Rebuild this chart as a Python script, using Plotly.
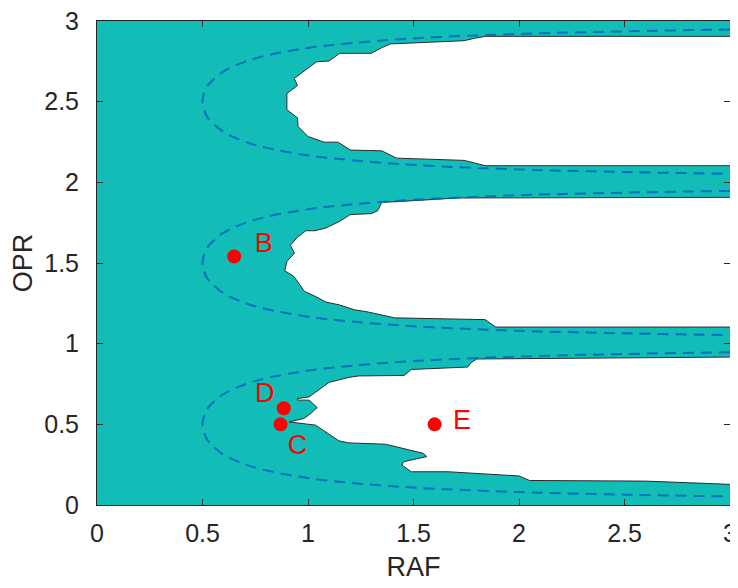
import plotly.graph_objects as go

# ---- data ----
tick_vals = [0, 0.5, 1, 1.5, 2, 2.5, 3]
tick_text = ["0", "0.5", "1", "1.5", "2", "2.5", "3"]

region_x = [0, 3, 3, 0, 0]
region_y = [0, 0, 3, 3, 0]

hole_top_x = [3, 1.84, 1.79, 1.74, 1.57, 1.39, 1.35, 1.30, 1.15, 1.10, 1.04, 0.95, 0.935, 0.95, 0.90,
              0.90, 0.95, 0.953, 1.0, 1.076, 1.143, 1.20, 1.35, 1.42, 1.74, 1.79, 1.84, 3]
hole_top_y = [2.905, 2.905, 2.893, 2.878, 2.868, 2.858, 2.835, 2.80, 2.80, 2.752, 2.747, 2.66, 2.644, 2.60, 2.55,
              2.45, 2.40, 2.346, 2.284, 2.249, 2.249, 2.20, 2.195, 2.15, 2.136, 2.12, 2.103, 2.103]

hole_mid_x = [3, 1.71, 1.42, 1.35, 1.33, 1.30, 1.20, 1.15, 1.084, 1.034, 0.99, 0.95, 0.916, 0.936, 0.90,
              0.89, 0.933, 0.95, 0.983, 1.04, 1.084, 1.15, 1.22, 1.286, 1.41, 1.84, 1.89, 3]
hole_mid_y = [1.907, 1.903, 1.88, 1.876, 1.824, 1.806, 1.80, 1.758, 1.717, 1.70, 1.70, 1.66, 1.61, 1.562, 1.51,
              1.452, 1.417, 1.386, 1.324, 1.29, 1.258, 1.24, 1.21, 1.196, 1.16, 1.149, 1.103, 1.103]

hole_bot_x = [3, 1.80, 1.775, 1.757, 1.49, 1.455, 1.24, 1.19, 1.10, 1.005, 0.95, 0.95, 1.005, 1.044, 1.013,
              0.98, 0.91, 1.036, 1.146, 1.193, 1.366, 1.49, 1.547, 1.563, 1.453, 1.445, 1.49, 1.665, 2.0,
              2.05, 2.6, 3]
hole_bot_y = [0.917, 0.905, 0.885, 0.855, 0.84, 0.803, 0.80, 0.79, 0.76, 0.67, 0.66, 0.65, 0.65, 0.604, 0.567,
              0.536, 0.515, 0.495, 0.398, 0.385, 0.377, 0.34, 0.32, 0.30, 0.268, 0.247, 0.206, 0.206, 0.18,
              0.152, 0.148, 0.128]

dash_x = [3.0, 2.5, 2.0, 1.5, 1.2, 1.0, 0.8, 0.7, 0.6, 0.55, 0.52, 0.5,
          0.52, 0.55, 0.6, 0.7, 0.8, 1.0, 1.2, 1.5, 2.0, 2.5, 3.0]
dash_top_y = [2.947, 2.936, 2.92, 2.892, 2.862, 2.833, 2.785, 2.747, 2.688, 2.635, 2.59, 2.5,
              2.41, 2.365, 2.312, 2.253, 2.215, 2.167, 2.138, 2.108, 2.08, 2.064, 2.053]
dash_mid_y = [1.947, 1.936, 1.92, 1.892, 1.862, 1.833, 1.785, 1.747, 1.688, 1.635, 1.59, 1.5,
              1.41, 1.365, 1.312, 1.253, 1.215, 1.167, 1.138, 1.108, 1.08, 1.064, 1.053]
dash_bot_y = [0.947, 0.936, 0.92, 0.892, 0.862, 0.833, 0.785, 0.747, 0.688, 0.635, 0.59, 0.5,
              0.41, 0.365, 0.312, 0.253, 0.215, 0.167, 0.138, 0.108, 0.08, 0.064, 0.053]

point_names = ["B", "C", "D", "E"]
point_x = [0.65, 0.87, 0.885, 1.6]
point_y = [1.54, 0.50, 0.60, 0.50]
label_x = [0.79, 0.95, 0.795, 1.73]
label_y = [1.612, 0.356, 0.681, 0.516]

TEAL = "#13BDB7"
EDGE = "#2b2b2b"
DASH = "#0072BD"
AX = "#262626"
FONT = "Liberation Sans, Arial"

fig = go.Figure()
fig.add_trace(go.Scatter(x=region_x, y=region_y, fill="toself", fillcolor=TEAL,
                         mode="lines", line=dict(width=0, color=TEAL), hoverinfo="skip"))
for hx, hy in [(hole_top_x, hole_top_y), (hole_mid_x, hole_mid_y), (hole_bot_x, hole_bot_y)]:
    fig.add_trace(go.Scatter(x=hx, y=hy, fill="toself", fillcolor="white", mode="lines",
                             line=dict(width=1, color=EDGE)))
for dy in [dash_top_y, dash_mid_y, dash_bot_y]:
    fig.add_trace(go.Scatter(x=dash_x, y=dy, mode="lines", line_shape="spline",
                             line=dict(width=2, color=DASH, dash="11px,7px")))
fig.add_trace(go.Scatter(x=point_x, y=point_y, mode="markers",
                         marker=dict(size=14, color="#FF0000")))
fig.add_trace(go.Scatter(x=label_x, y=label_y, mode="text", text=point_names,
                         textfont=dict(size=27, color="#FF0000", family=FONT)))

axis_common = dict(range=[0, 3], tickvals=tick_vals, ticktext=tick_text, showgrid=False,
                   zeroline=False, showline=True, linecolor=AX, linewidth=1, mirror="ticks",
                   ticks="inside", ticklen=6, tickcolor=AX, automargin=False,
                   ticklabeloverflow="allow",
                   tickfont=dict(size=25, color=AX, family=FONT))
# the page body adds an 8px offset, so the figure is 8px smaller than the window
fig.update_layout(
    width=730, height=580, showlegend=False,
    margin=dict(l=89, r=8, t=13, b=83),
    paper_bgcolor="white", plot_bgcolor="white",
    xaxis=dict(**axis_common, title=dict(text="RAF", font=dict(size=27, color=AX, family=FONT),
                                         standoff=11),
               ticklabelstandoff=6),
    yaxis=dict(**axis_common, title=dict(text="OPR", font=dict(size=27, color=AX, family=FONT),
                                         standoff=10),
               ticklabelstandoff=12),
)
fig.write_html("out.html")
